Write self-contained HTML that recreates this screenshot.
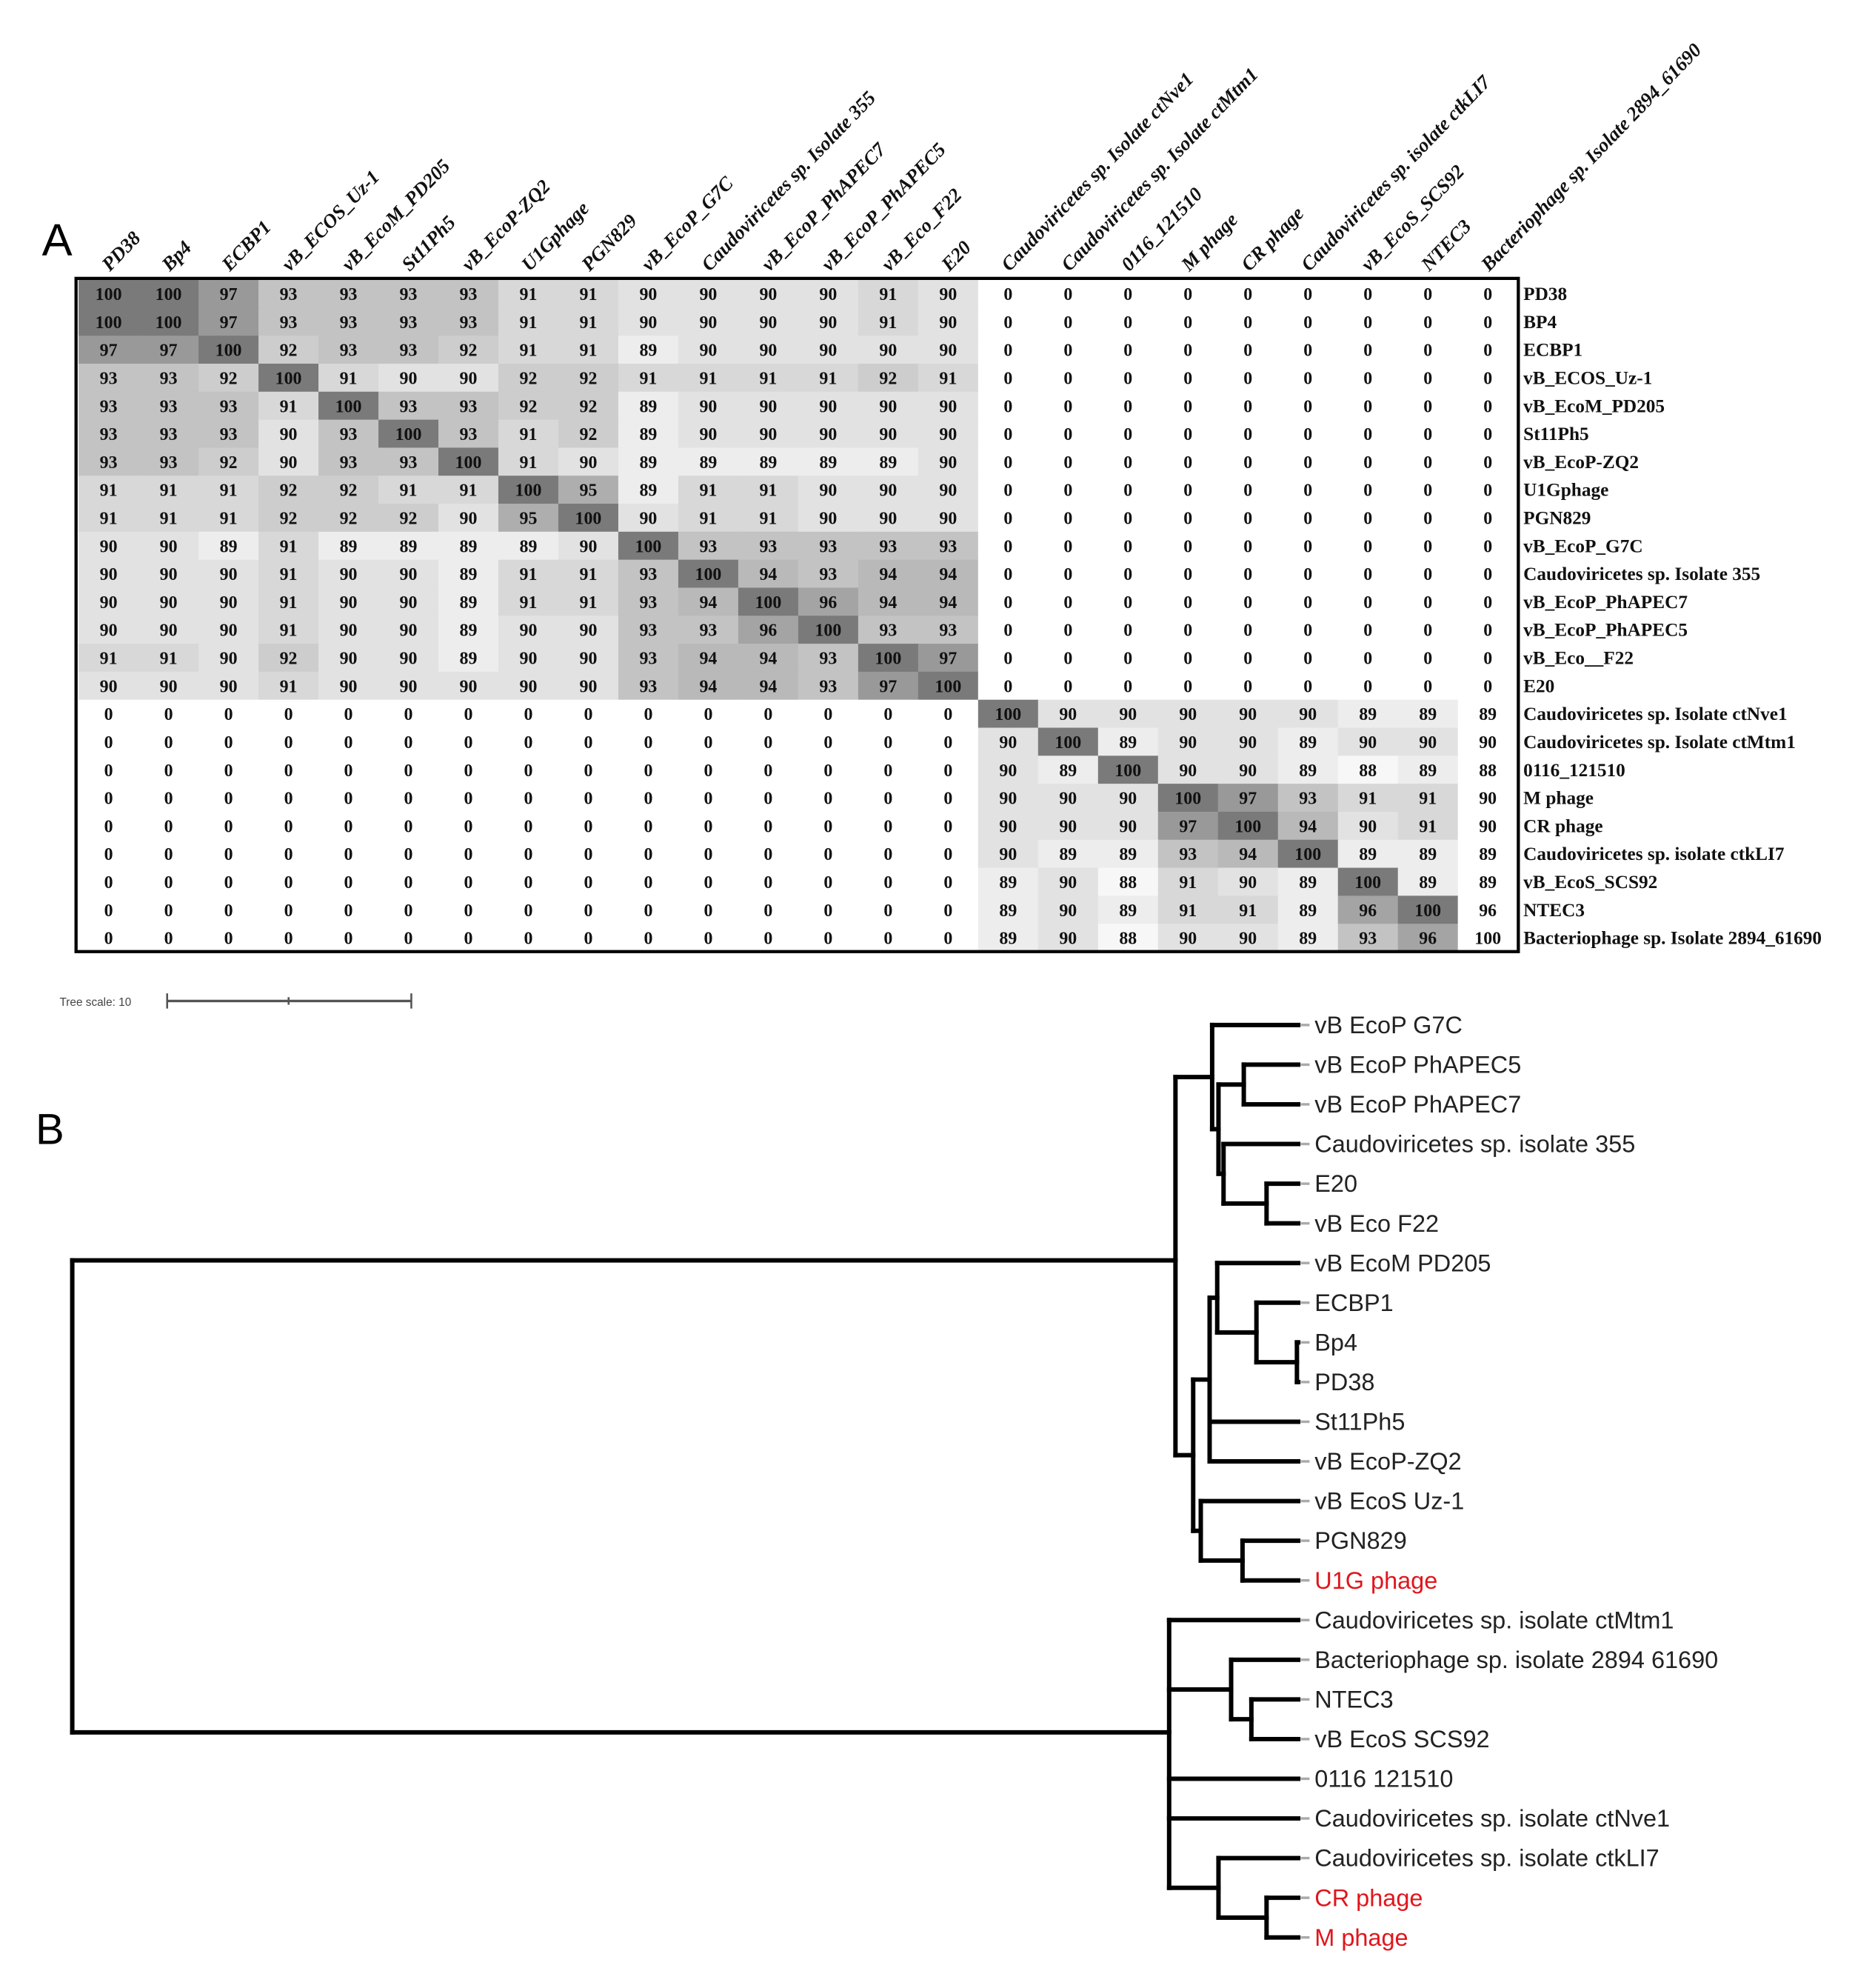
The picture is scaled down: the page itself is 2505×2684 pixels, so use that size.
<!DOCTYPE html>
<html><head><meta charset="utf-8"><style>
html,body{margin:0;padding:0;background:#fff;}
svg{display:block;}
</style></head><body>
<svg id="fig" xmlns="http://www.w3.org/2000/svg" width="2505" height="2684" viewBox="0 0 1466 1571">
<rect width="1466" height="1571" fill="#fff"/>
<text x="33" y="202" font-family="Liberation Sans, sans-serif" font-size="36" fill="#000">A</text>
<text x="28" y="904" font-family="Liberation Sans, sans-serif" font-size="34" fill="#000">B</text>
<g id="heat"></g>
<g id="tree"></g>
<g>
<text x="47" y="795" font-family="Liberation Sans, sans-serif" font-size="9" fill="#444">Tree scale: 10</text>
<line x1="132" y1="791" x2="325" y2="791" stroke="#555" stroke-width="2"/>
<line x1="132" y1="785" x2="132" y2="797" stroke="#555" stroke-width="1.5"/>
<line x1="228" y1="788" x2="228" y2="794" stroke="#555" stroke-width="1.5"/>
<line x1="325" y1="785" x2="325" y2="797" stroke="#555" stroke-width="1.5"/>
</g>
</svg>
<script>
const colLabels=["PD38","Bp4","ECBP1","vB_ECOS_Uz-1","vB_EcoM_PD205","St11Ph5","vB_EcoP-ZQ2","U1Gphage","PGN829","vB_EcoP_G7C","Caudoviricetes sp. Isolate 355","vB_EcoP_PhAPEC7","vB_EcoP_PhAPEC5","vB_Eco_F22","E20","Caudoviricetes sp. Isolate ctNve1","Caudoviricetes sp. Isolate ctMtm1","0116_121510","M phage","CR phage","Caudoviricetes sp. isolate ctkLI7","vB_EcoS_SCS92","NTEC3","Bacteriophage sp. Isolate 2894_61690"];
const rowLabels=["PD38","BP4","ECBP1","vB_ECOS_Uz-1","vB_EcoM_PD205","St11Ph5","vB_EcoP-ZQ2","U1Gphage","PGN829","vB_EcoP_G7C","Caudoviricetes sp. Isolate 355","vB_EcoP_PhAPEC7","vB_EcoP_PhAPEC5","vB_Eco__F22","E20","Caudoviricetes sp. Isolate ctNve1","Caudoviricetes sp. Isolate ctMtm1","0116_121510","M phage","CR phage","Caudoviricetes sp. isolate ctkLI7","vB_EcoS_SCS92","NTEC3","Bacteriophage sp. Isolate 2894_61690"];
const blockA=[
[100,100,97,93,93,93,93,91,91,90,90,90,90,91,90],
[100,100,97,93,93,93,93,91,91,90,90,90,90,91,90],
[97,97,100,92,93,93,92,91,91,89,90,90,90,90,90],
[93,93,92,100,91,90,90,92,92,91,91,91,91,92,91],
[93,93,93,91,100,93,93,92,92,89,90,90,90,90,90],
[93,93,93,90,93,100,93,91,92,89,90,90,90,90,90],
[93,93,92,90,93,93,100,91,90,89,89,89,89,89,90],
[91,91,91,92,92,91,91,100,95,89,91,91,90,90,90],
[91,91,91,92,92,92,90,95,100,90,91,91,90,90,90],
[90,90,89,91,89,89,89,89,90,100,93,93,93,93,93],
[90,90,90,91,90,90,89,91,91,93,100,94,93,94,94],
[90,90,90,91,90,90,89,91,91,93,94,100,96,94,94],
[90,90,90,91,90,90,89,90,90,93,93,96,100,93,93],
[91,91,90,92,90,90,89,90,90,93,94,94,93,100,97],
[90,90,90,91,90,90,90,90,90,93,94,94,93,97,100]];
const blockB=[
[100,90,90,90,90,90,89,89,89],
[90,100,89,90,90,89,90,90,90],
[90,89,100,90,90,89,88,89,88],
[90,90,90,100,97,93,91,91,90],
[90,90,90,97,100,94,90,91,90],
[90,89,89,93,94,100,89,89,89],
[89,90,88,91,90,89,100,89,89],
[89,90,89,91,91,89,96,100,96],
[89,90,88,90,90,89,93,96,100]];
const treeLeaves=["vB EcoP G7C","vB EcoP PhAPEC5","vB EcoP PhAPEC7","Caudoviricetes sp. isolate 355","E20","vB Eco F22","vB EcoM PD205","ECBP1","Bp4","PD38","St11Ph5","vB EcoP-ZQ2","vB EcoS Uz-1","PGN829","U1G phage","Caudoviricetes sp. isolate ctMtm1","Bacteriophage sp. isolate 2894 61690","NTEC3","vB EcoS SCS92","0116 121510","Caudoviricetes sp. isolate ctNve1","Caudoviricetes sp. isolate ctkLI7","CR phage","M phage"];
const highlighted=["U1G phage","CR phage","M phage"];

const NS="http://www.w3.org/2000/svg";
function mk(tag,attrs,parent){const e=document.createElementNS(NS,tag);for(const k in attrs)e.setAttribute(k,attrs[k]);parent.appendChild(e);return e;}
const N=24, nA=blockA.length;
const matrix=[];
for(let i=0;i<N;i++){const r=[];for(let j=0;j<N;j++){
  if(i<nA&&j<nA)r.push(blockA[i][j]);else if(i>=nA&&j>=nA)r.push(blockB[i-nA][j-nA]);else r.push(0);}
  matrix.push(r);}
const X0=62,Y0=221,CW=47.4,CH=22.13;
const xs=j=>X0+j*CW, ys=i=>Y0+i*CH;
function shade(v){
  if(v<85)return "#ffffff";
  const t=Math.max(0,Math.min(1,(v-88)/12));
  const g=Math.round(247-t*(247-122));
  return `rgb(${g},${g},${g})`;
}
const heat=document.getElementById('heat');
for(let i=0;i<N;i++)for(let j=0;j<N;j++){
  const v=matrix[i][j];
  const fill=(j===N-1)?"#ffffff":shade(v);
  const c=mk('rect',{x:xs(j),y:ys(i),width:CW+0.5,height:CH+0.5,fill:fill},heat);
  
  
  const t=mk('text',{x:xs(j)+CW/2,y:ys(i)+CH/2+5,'text-anchor':'middle','font-family':'Liberation Serif, serif','font-weight':'bold','font-size':'14',fill:'#111'},heat);
  t.textContent=v;
  
  
}
const border=mk('rect',{x:60,y:220,width:1140,height:532,fill:'none',stroke:'#000','stroke-width':2.5},heat);


rowLabels.forEach((l,i)=>{
  const t=mk('text',{x:1204,y:ys(i)+CH/2+5,'font-family':'Liberation Serif, serif','font-weight':'bold','font-size':'14.8',fill:'#111'},heat);
  t.textContent=l;
  
  
});
colLabels.forEach((l,j)=>{
  const x=xs(j)+CW/2+1, y=215;
  const t=mk('text',{x:x,y:y,transform:`rotate(-46 ${x} ${y})`,'font-family':'Liberation Serif, serif','font-weight':'bold','font-style':'italic','font-size':'15.5',fill:'#111'},heat);
  t.textContent=l;
  
  
});
const tree=document.getElementById('tree');
const LY0=810, LDY=31.35, LEAFX=1026;
const ly=i=>LY0+i*LDY;
function seg(x1,y1,x2,y2){const l=mk('line',{x1,y1,x2,y2,stroke:'#000','stroke-width':3.5,'stroke-linecap':'square'},tree);
  
  }
function draw(n){
  if(typeof n==='number'){return ly(n);}
  const ysK=n.k.map(c=>{const y=draw(c);const cx=(typeof c==='number')?LEAFX:c.x;seg(n.x,y,cx,y);return y;});
  const a=Math.min(...ysK),b=Math.max(...ysK);
  seg(n.x,a,n.x,b);
  return n.y!==undefined?n.y:(a+b)/2;
}
const topClade={x:929,y:996,k:[
  {x:958,k:[0,{x:963,k:[{x:983,k:[1,2]},{x:967,k:[3,{x:1001,k:[4,5]}]}]}]},
  {x:943,k:[{x:956,k:[{x:962,k:[6,{x:993,k:[7,{x:1025,k:[8,9]}]}]},10,11]},{x:949,k:[12,{x:982,k:[13,14]}]}]}
]};
const botClade={x:924,y:1369,k:[15,{x:973,k:[16,{x:989,k:[17,18]}]},19,20,{x:963,k:[21,{x:1001,k:[22,23]}]}]};
const yt=draw(topClade), yb=draw(botClade);
seg(57,yt,929,yt); seg(57,yb,924,yb); seg(57,yt,57,yb);
treeLeaves.forEach((l,i)=>{
  const d=mk('line',{x1:1028,y1:ly(i),x2:1035,y2:ly(i),stroke:'#aaa','stroke-width':2},tree);
  
  
  const t=mk('text',{x:1039,y:ly(i)+6.5,'font-family':'Liberation Sans, sans-serif','font-size':'19',fill:highlighted.includes(l)?'#e0161c':'#222'},tree);
  t.textContent=l;
  
  
});
</script>
</body></html>
